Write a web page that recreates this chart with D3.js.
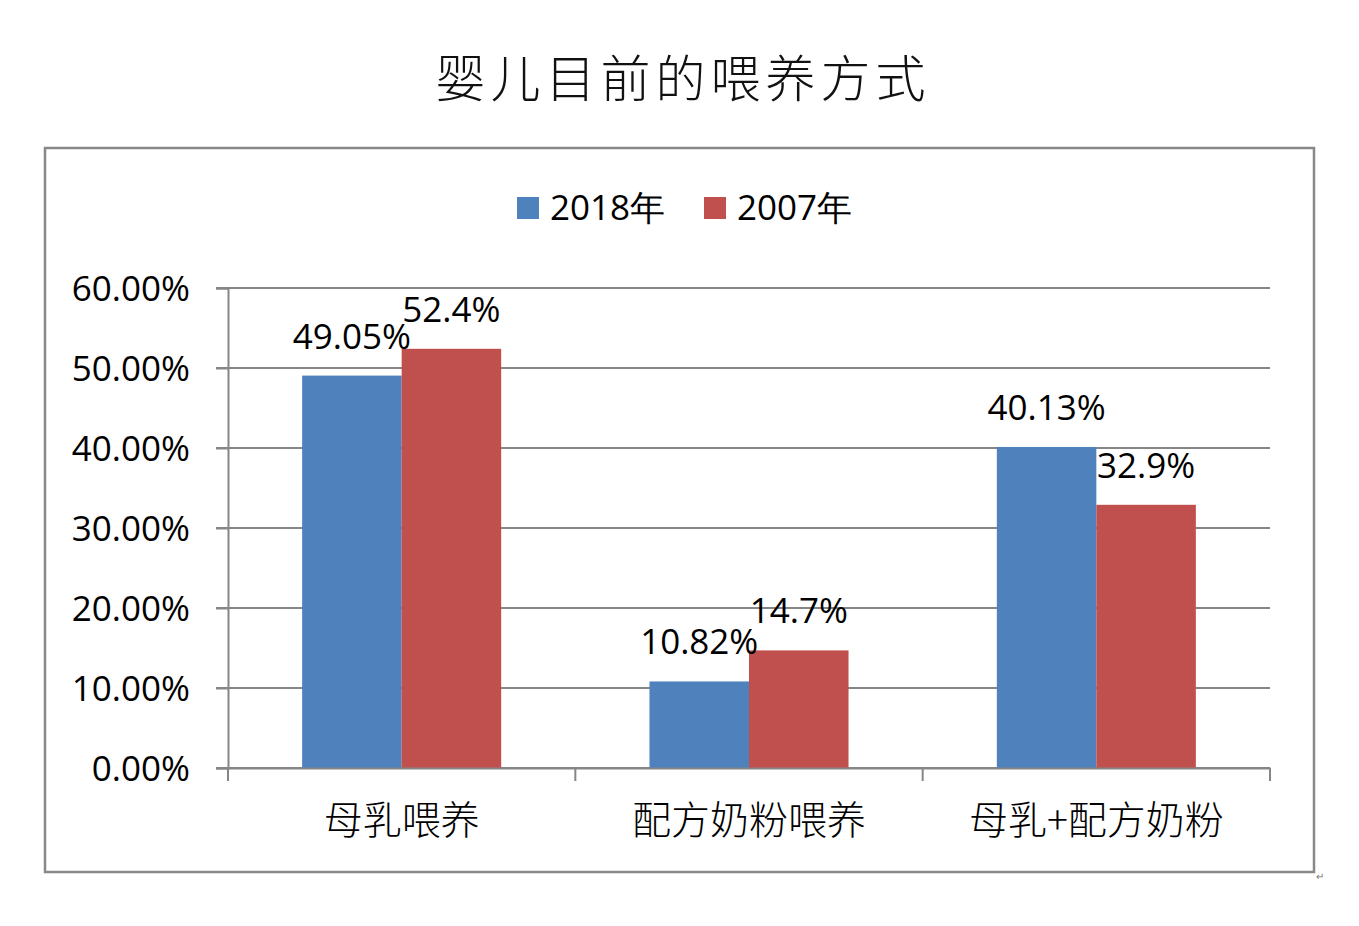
<!DOCTYPE html>
<html><head><meta charset="utf-8">
<script src="https://cdn.jsdelivr.net/npm/d3@7"></script>
<style>body{margin:0;background:#fff;}svg{display:block;}</style>
</head><body>
<script>
const categories = ["母乳喂养", "配方奶粉喂养", "母乳+配方奶粉"];
const seriesNames = ["2018年", "2007年"];
const values2018 = [49.05, 10.82, 40.13];
const values2007 = [52.4, 14.7, 32.9];
const labels2018 = ["49.05%", "10.82%", "40.13%"];
const labels2007 = ["52.4%", "14.7%", "32.9%"];
const yTicks = [0, 10, 20, 30, 40, 50, 60];
const colors = ["#4F81BD", "#C0504D"];

const W = 1359, H = 926;
const svg = d3.select("body").append("svg").attr("width", W).attr("height", H);
const numFont = "'Open Sans', 'Noto Sans', sans-serif";
const cjkFont = "'Noto Sans CJK SC', sans-serif";

// title
svg.append("text").attr("x", 683).attr("y", 97).attr("text-anchor", "middle")
  .attr("font-family", cjkFont).attr("font-weight", 300).attr("font-size", 50)
  .attr("letter-spacing", 5).attr("fill", "#111").text("婴儿目前的喂养方式");

// frame
svg.append("rect").attr("x", 45).attr("y", 148).attr("width", 1269).attr("height", 724)
  .attr("fill", "none").attr("stroke", "#888").attr("stroke-width", 2.5);
svg.append("text").attr("x", 1316).attr("y", 880).attr("font-size", 10).attr("fill", "#777").text("↵");

const plot = {l: 228, r: 1270, t: 288, b: 768};
const y = d3.scaleLinear().domain([0, 60]).range([plot.b, plot.t]);
const x0 = d3.scaleBand().domain(categories).range([plot.l, plot.r]).paddingInner(0).paddingOuter(0);
const x1 = d3.scaleBand().domain(seriesNames).range([0, x0.bandwidth()]).paddingInner(0).paddingOuter(0.745);

// gridlines
const gridG = svg.append("g");
yTicks.forEach(t => {
  gridG.append("line").attr("x1", plot.l - 12).attr("x2", plot.r).attr("y1", y(t)).attr("y2", y(t))
    .attr("stroke", "#868686").attr("stroke-width", 2);
});
// y axis
const yAxis = d3.axisLeft(y).tickValues(yTicks).tickSize(12).tickFormat(d => d.toFixed(2) + "%");
const yg = svg.append("g").attr("transform", `translate(${plot.l},0)`).call(yAxis);
yg.select(".domain").attr("stroke", "#868686").attr("stroke-width", 2);
yg.selectAll(".tick line").attr("stroke", "#868686").attr("stroke-width", 2);
yg.selectAll(".tick text").attr("font-family", numFont).attr("font-size", 35).attr("fill", "#000")
  .attr("x", -38).attr("dy", "0.35em");

// bars
const data = categories.map((c, i) => ({c, vals: [values2018[i], values2007[i]], labs: [labels2018[i], labels2007[i]]}));
const groups = svg.append("g").selectAll("g").data(data).join("g")
  .attr("transform", d => `translate(${x0(d.c)},0)`);
groups.selectAll("rect").data(d => d.vals.map((v, j) => ({s: seriesNames[j], v, j})))
  .join("rect").attr("x", d => x1(d.s)).attr("width", x1.bandwidth())
  .attr("y", d => y(d.v)).attr("height", d => y(0) - y(d.v)).attr("fill", d => colors[d.j]);
groups.selectAll("text").data(d => d.vals.map((v, j) => ({s: seriesNames[j], v, j, lab: d.labs[j]})))
  .join("text").attr("x", d => x1(d.s) + x1.bandwidth() / 2).attr("y", d => y(d.v) - 27)
  .attr("text-anchor", "middle").attr("font-family", numFont).attr("font-size", 35).attr("fill", "#000")
  .text(d => d.lab);

// x axis
const xAxis = d3.axisBottom(x0).tickSize(0).tickFormat(d => d);
const xg = svg.append("g").attr("transform", `translate(0,${plot.b})`).call(xAxis);
xg.select(".domain").attr("stroke", "#868686").attr("stroke-width", 2);
xg.selectAll(".tick text").attr("font-family", cjkFont).attr("font-weight", 300).attr("font-size", 39)
  .attr("fill", "#000").attr("dy", null).attr("y", 66);
// category boundary ticks
const bounds = [plot.l].concat(categories.map(c => x0(c) + x0.bandwidth()));
bounds.forEach(bx => {
  xg.append("line").attr("x1", bx).attr("x2", bx).attr("y1", 0).attr("y2", 13)
    .attr("stroke", "#868686").attr("stroke-width", 2);
});

// legend
const leg = svg.append("g");
const legItems = [{x: 517}, {x: 704}];
seriesNames.forEach((s, i) => {
  leg.append("rect").attr("x", legItems[i].x).attr("y", 197).attr("width", 22).attr("height", 22).attr("fill", colors[i]);
  leg.append("text").attr("x", legItems[i].x + 33).attr("y", 220).attr("font-family", numFont)
    .attr("font-size", 35).attr("fill", "#000").text(s);
});
</script>
</body></html>
